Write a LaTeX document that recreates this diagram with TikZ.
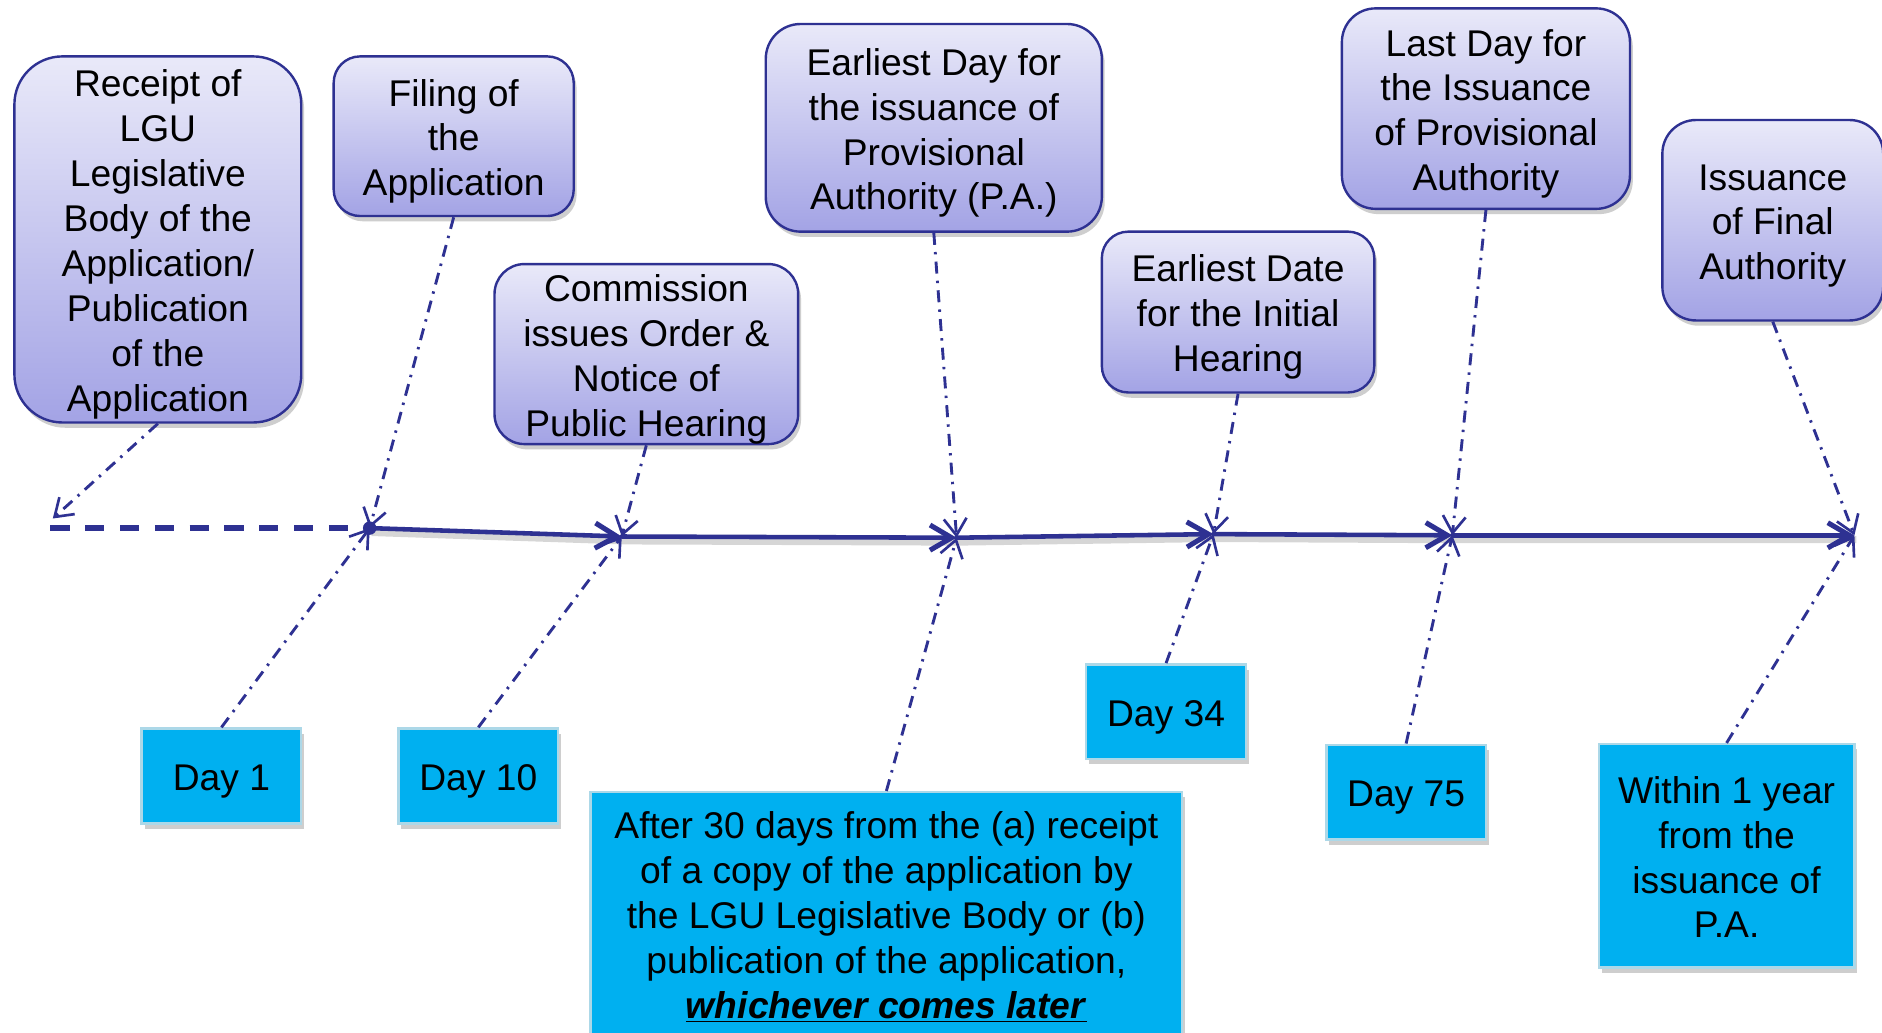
\documentclass[tikz,border=0pt]{standalone}
\usepackage{fontspec}
\setmainfont{Liberation Sans}
\usetikzlibrary{arrows.meta,shadows}
\definecolor{navy}{RGB}{46,49,146}
\definecolor{lavtop}{RGB}{233,233,249}
\definecolor{lavbot}{RGB}{163,163,229}
\definecolor{cyanbox}{RGB}{0,176,240}
\definecolor{cyanedge}{RGB}{172,216,232}
\newcommand{\boxlines}[1]{{\setbox\strutbox\hbox{\vrule height15.5pt depth3.2pt width0pt}%
  \begin{tabular}{@{}c@{}}#1\end{tabular}}}
\begin{document}
\begin{tikzpicture}[x=0.5pt,y=-0.5pt,
  font=\fontsize{15.5}{18.7}\selectfont,
  shad/.style={drop shadow={shadow xshift=1.2pt,shadow yshift=-2.2pt,opacity=0.35,fill=black!55}},
  evt/.style={draw=navy,line width=1pt,top color=lavtop,bottom color=lavbot,inner sep=0pt,shad},
  daybox/.style={draw=cyanedge,line width=1pt,fill=cyanbox,inner sep=0pt,
    minimum width=66.5pt,minimum height=39.5pt,shad},
  conn/.style={draw=navy,line width=1.2pt,dash pattern=on 5pt off 3pt on 1pt off 3pt,
    -{Straight Barb[length=7pt,width=9.5pt,line width=1.1pt]}},
  tl/.style={draw=navy,line width=1.9pt,line cap=round,
    -{Straight Barb[length=9pt,width=10.5pt,line width=2.1pt]}},
  tldash/.style={draw=navy,line width=2.4pt,dash pattern=on 8pt off 6.5pt},
  tlshadow/.style={draw=black,opacity=0.16,line width=3pt}
]
\useasboundingbox (0,0) rectangle (1568,860);
\fill[white] (0,0) rectangle (1568,860);

% timeline coordinates
\coordinate (t0) at (42,440);
\coordinate (t1) at (308,440);
\coordinate (t2) at (518,447);
\coordinate (t3) at (797,448);
\coordinate (t4) at (1011,445);
\coordinate (t5) at (1210,446);
\coordinate (t6) at (1545,446);
\coordinate (r0) at (44,432);

% top event boxes
\node[evt,minimum width=119.5pt,minimum height=152.5pt,rounded corners=20pt] (rec) at (131.5,199.5)
  {\boxlines{Receipt of\\LGU\\Legislative\\Body of the\\Application/\\Publication\\of the\\Application}};
\node[evt,minimum width=100pt,minimum height=66.5pt,rounded corners=11pt] (fil) at (378,113.5)
  {\boxlines{Filing of\\the\\Application}};
\node[evt,minimum width=126.5pt,minimum height=75pt,rounded corners=12.5pt] (com) at (538.5,295)
  {\boxlines{Commission\\issues Order \&\\Notice of\\Public Hearing}};
\node[evt,minimum width=140pt,minimum height=86.5pt,rounded corners=14.5pt] (ear) at (778,106.5)
  {\boxlines{Earliest Day for\\the issuance of\\Provisional\\Authority (P.A.)}};
\node[evt,minimum width=113.5pt,minimum height=67pt,rounded corners=11pt] (eid) at (1031.5,260)
  {\boxlines{Earliest Date\\for the Initial\\Hearing}};
\node[evt,minimum width=120pt,minimum height=83.5pt,rounded corners=14pt] (las) at (1238,90.5)
  {\boxlines{Last Day for\\the Issuance\\of Provisional\\Authority}};
\node[evt,minimum width=92pt,minimum height=83.5pt,rounded corners=14pt] (iss) at (1477,183.5)
  {\boxlines{Issuance\\of Final\\Authority}};

% bottom day boxes
\node[daybox] (d1) at (184.5,646.5) {\boxlines{Day 1}};
\node[daybox] (d10) at (398.5,646.5) {\boxlines{Day 10}};
\node[daybox,minimum width=246.5pt,minimum height=101pt] (aft) at (738.5,761)
  {\boxlines{After 30 days from the (a) receipt\\of a copy of the application by\\the LGU Legislative Body or (b)\\publication of the application,\\\underline{\textbf{\textit{whichever comes later}}}}};
\node[daybox] (d34) at (971.5,593) {\boxlines{Day 34}};
\node[daybox] (d75) at (1171.5,660) {\boxlines{Day 75}};
\node[daybox,minimum width=106.5pt,minimum height=93pt] (w1y) at (1438.5,713)
  {\boxlines{Within 1 year\\from the\\issuance of\\P.A.}};

% timeline shadow
\draw[tlshadow] ([shift={(0.8pt,-1.8pt)}]t1) -- ([shift={(0.8pt,-1.8pt)}]t2) -- ([shift={(0.8pt,-1.8pt)}]t3) -- ([shift={(0.8pt,-1.8pt)}]t4) -- ([shift={(0.8pt,-1.8pt)}]t5) -- ([shift={(0.8pt,-1.8pt)}]t6);

% timeline
\draw[tldash] (t0) -- (t1);
\draw[tl] (t1) -- (t2);
\draw[tl] (t2) -- (t3);
\draw[tl] (t3) -- (t4);
\draw[tl] (t4) -- (t5);
\draw[tl] (t5) -- (t6);
\fill[navy] (t1) circle (2.8pt);

% connectors
\draw[conn] (rec.south) -- (r0);
\draw[conn] (fil.south) -- (t1);
\draw[conn] (d1.north) -- (t1);
\draw[conn] (com.south) -- (t2);
\draw[conn] (d10.north) -- (t2);
\draw[conn] (ear.south) -- (t3);
\draw[conn] (aft.north) -- (t3);
\draw[conn] (eid.south) -- (t4);
\draw[conn] (d34.north) -- (t4);
\draw[conn] (las.south) -- (t5);
\draw[conn] (d75.north) -- (t5);
\draw[conn] (iss.south) -- (t6);
\draw[conn] (w1y.north) -- (t6);
\end{tikzpicture}
\end{document}
